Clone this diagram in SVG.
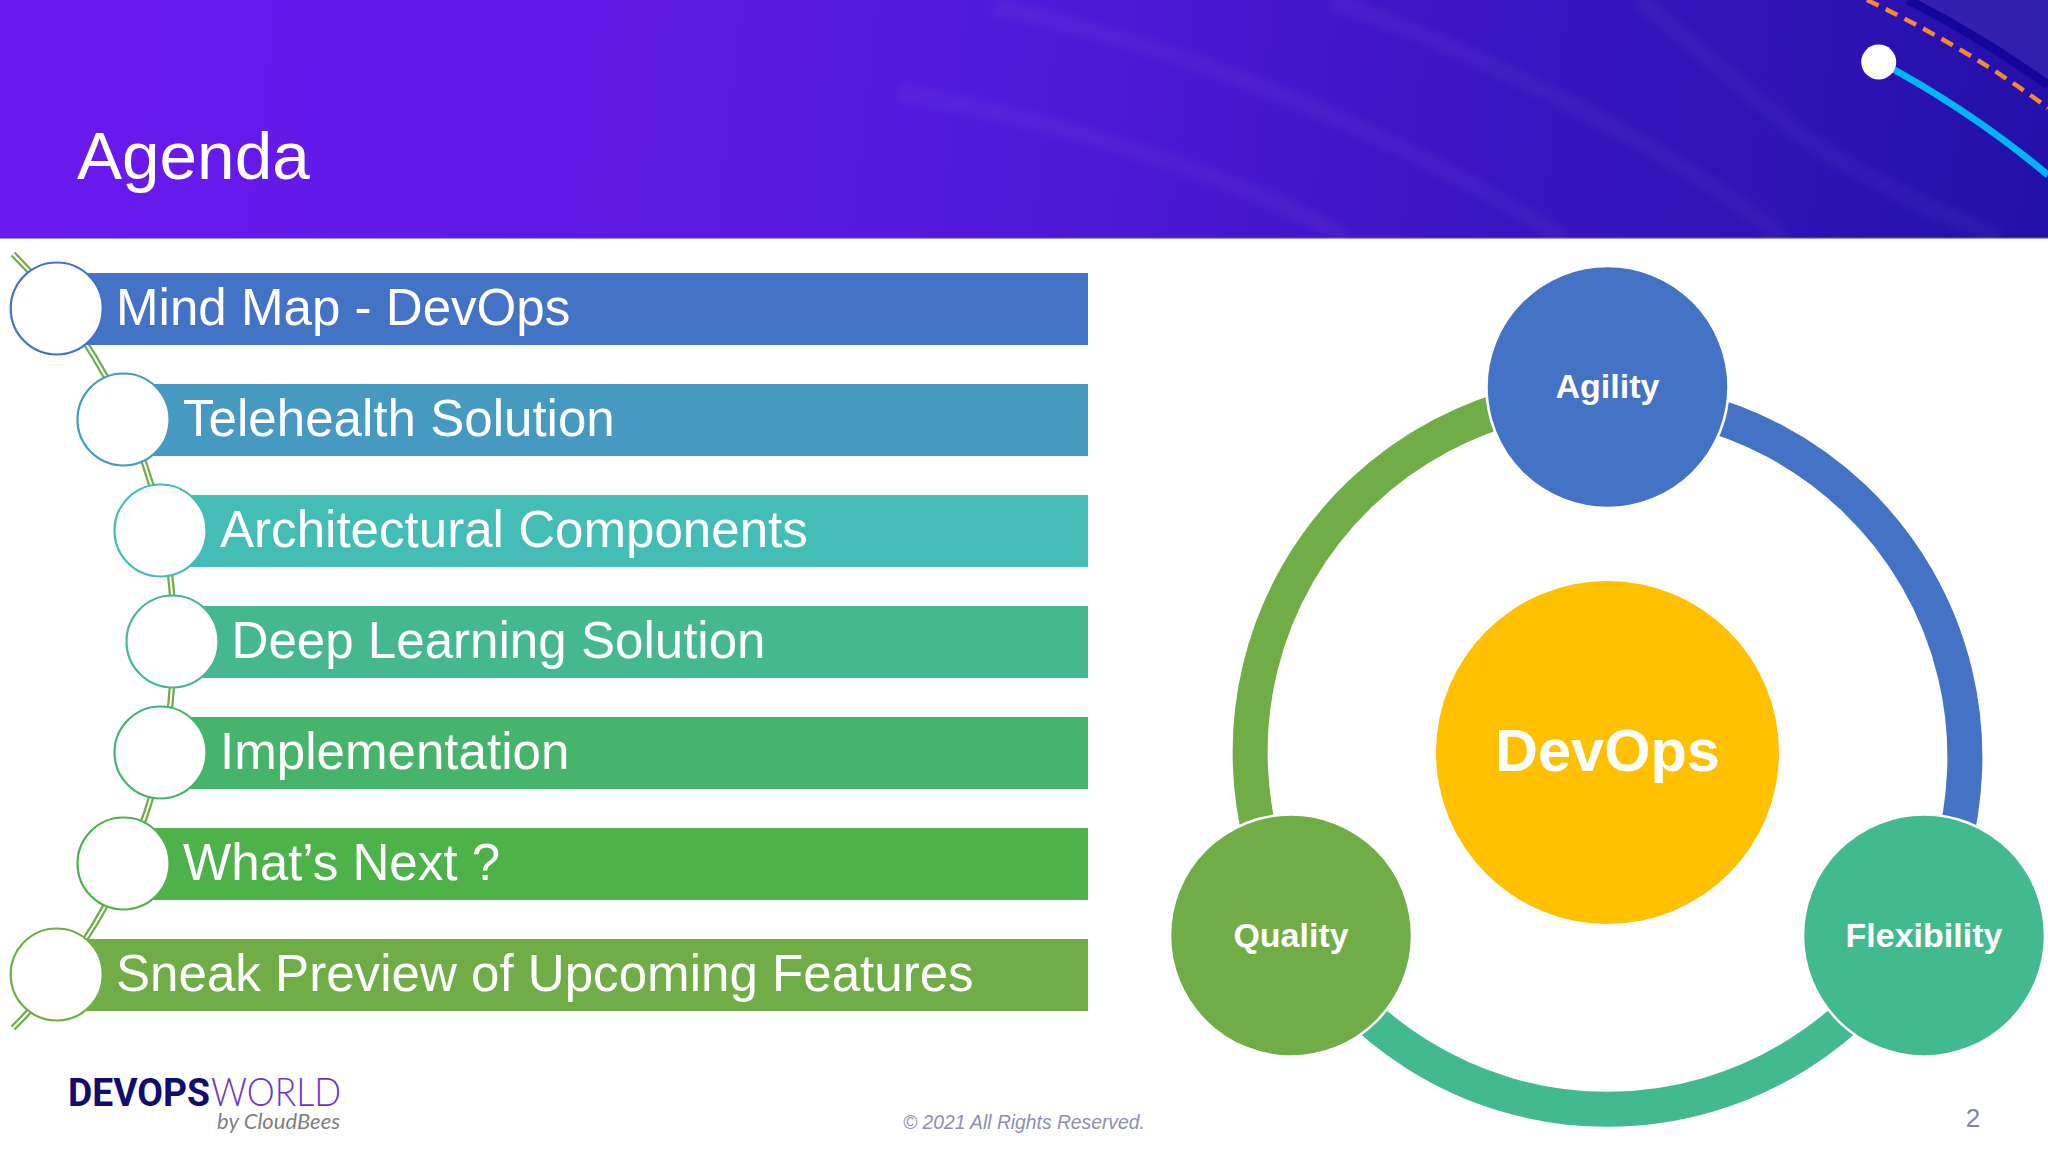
<svg xmlns="http://www.w3.org/2000/svg" width="2048" height="1152" viewBox="0 0 2048 1152">
<style>
text{font-family:"Liberation Sans",Arial,sans-serif}
.bar{font-size:51.1px;fill:#fff}
.lbl{font-size:34px;font-weight:bold;fill:#fff;text-anchor:middle}
.dot{fill:#fff;stroke-width:2.2}
.ring{fill:none;stroke-width:35}
.gap{stroke:#fff;stroke-width:2.5}
.swoosh{fill:none;stroke:#fff;stroke-opacity:.035;stroke-width:17}
</style>
<defs>
<linearGradient id="hdr" x1="0" y1="0" x2="2048" y2="238" gradientUnits="userSpaceOnUse">
<stop offset="0" stop-color="#6C1AF0"/><stop offset=".45" stop-color="#5419DC"/><stop offset=".7" stop-color="#3C16C4"/><stop offset="1" stop-color="#2310A8"/>
</linearGradient>
<filter id="soft" x="-10%" y="-10%" width="120%" height="120%"><feGaussianBlur stdDeviation="3"/></filter>
</defs>
<rect width="2048" height="1152" fill="#fff"/>
<g id="header">
<rect width="2048" height="238" fill="url(#hdr)"/>
<rect y="237" width="2048" height="1.5" fill="#4A2BC8"/>
<g filter="url(#soft)">
<path class="swoosh" d="M1640 0Q1710 60 1778 117T1998 238"/>
<path class="swoosh" d="M1332 0Q1470 50 1595 117T1782 238"/>
<path class="swoosh" d="M995 7Q1150 40 1295 100T1563 238"/>
<path class="swoosh" d="M900 93Q1030 115 1156 157T1345 238"/>
</g>
<path fill="#fff" fill-opacity=".06" d="M1908 0C1960 26 2010 58 2048 85V0Z"/>
<path fill="none" stroke="#14069A" stroke-width="9" d="M1908 0C1960 26 2010 58 2048 85"/>
<path fill="none" stroke="#F28A30" stroke-width="4.5" stroke-dasharray="13 8" d="M1867 0C1930 30 1995 68 2048 108"/>
<path fill="none" stroke="#00B4F0" stroke-width="7" d="M1880 62C1940 94 2000 135 2048 175"/>
<circle cx="1878.7" cy="62" r="17.5" fill="#fff"/>
<text x="77" y="179" font-size="67.5" fill="#fff">Agenda</text>
</g>
<g id="connectors">
<path fill="none" stroke="#70AD47" stroke-width="6.5" d="M13 254A545.6 545.6 0 0 1 13 1028"/>
<path fill="none" stroke="#fff" stroke-width="2" d="M13 254A545.6 545.6 0 0 1 13 1028"/>
</g>
<g id="item1"><rect x="57" y="273" width="1031" height="72" fill="#4472C4"/><circle class="dot" cx="56.7" cy="308.5" r="46" stroke="#4472C4"/><text class="bar" x="116" y="325">Mind Map - DevOps</text></g>
<g id="item2"><rect x="123" y="384" width="965" height="72" fill="#4699C0"/><circle class="dot" cx="123.5" cy="419.5" r="46" stroke="#4699C0"/><text class="bar" x="183" y="436">Telehealth Solution</text></g>
<g id="item3"><rect x="160" y="495" width="928" height="72" fill="#43BDB5"/><circle class="dot" cx="160.5" cy="530.5" r="46" stroke="#43BDB5"/><text class="bar" x="220" y="547">Architectural Components</text></g>
<g id="item4"><rect x="172" y="606" width="916" height="72" fill="#45B890"/><circle class="dot" cx="172.5" cy="641.5" r="46" stroke="#45B890"/><text class="bar" x="231.5" y="658">Deep Learning Solution</text></g>
<g id="item5"><rect x="160" y="717" width="928" height="72" fill="#47B46C"/><circle class="dot" cx="160.5" cy="752.5" r="46" stroke="#47B46C"/><text class="bar" x="220" y="769">Implementation</text></g>
<g id="item6"><rect x="123" y="828" width="965" height="72" fill="#4DB24A"/><circle class="dot" cx="123.5" cy="863.5" r="46" stroke="#4DB24A"/><text class="bar" x="183" y="880">What’s Next ?</text></g>
<g id="item7"><rect x="57" y="939" width="1031" height="72" fill="#70AD47"/><circle class="dot" cx="56.7" cy="974.5" r="46" stroke="#70AD47"/><text class="bar" x="116" y="991">Sneak Preview of Upcoming Features</text></g>
<g id="cycle-connectors">
<path class="ring" stroke="#4472C4" d="M1607.5 399.5A357.5 357.5 0 0 1 1917 935.75"/>
<path class="ring" stroke="#43B98F" d="M1917 930.75A357.5 357.5 0 0 1 1298 930.75"/>
<path class="ring" stroke="#70AD47" d="M1298 930.75A357.5 357.5 0 0 1 1607.5 394.5"/>
</g>
<g id="devops"><circle cx="1607.5" cy="752.5" r="171.5" fill="#FFC000"/><text x="1607.5" y="771" font-size="59.5" font-weight="bold" fill="#fff" text-anchor="middle">DevOps</text></g>
<g id="agility"><circle class="gap" cx="1607.5" cy="387" r="121" fill="#4472C4"/><text class="lbl" x="1607.5" y="397.5">Agility</text></g>
<g id="flexibility"><circle class="gap" cx="1924" cy="935.5" r="121" fill="#43B98F"/><text class="lbl" x="1924" y="946.5">Flexibility</text></g>
<g id="quality"><circle class="gap" cx="1291" cy="935.5" r="121" fill="#70AD47"/><text class="lbl" x="1291" y="946.5">Quality</text></g>
<g id="logo">
<text x="68" y="1106" font-size="39" font-weight="bold" fill="#130C70" textLength="142" lengthAdjust="spacingAndGlyphs" style="font-family:Roboto,'Liberation Sans',sans-serif">DEVOPS</text>
<text x="211" y="1106" font-size="39" font-weight="300" fill="#6A35D0" textLength="130" lengthAdjust="spacingAndGlyphs" style="font-family:Lato,'Liberation Sans',sans-serif">WORLD</text>
<text x="217" y="1129" font-size="22" font-style="italic" fill="#7F7F7F" textLength="123" lengthAdjust="spacingAndGlyphs" style="font-family:Lato,'Liberation Sans',sans-serif">by CloudBees</text>
</g>
<g id="footer">
<text x="903" y="1128.5" font-size="19.3" font-style="italic" fill="#8E8EAE">© 2021 All Rights Reserved.</text>
<text x="1973" y="1127" font-size="26" fill="#8484A8" text-anchor="middle">2</text>
</g>
</svg>
